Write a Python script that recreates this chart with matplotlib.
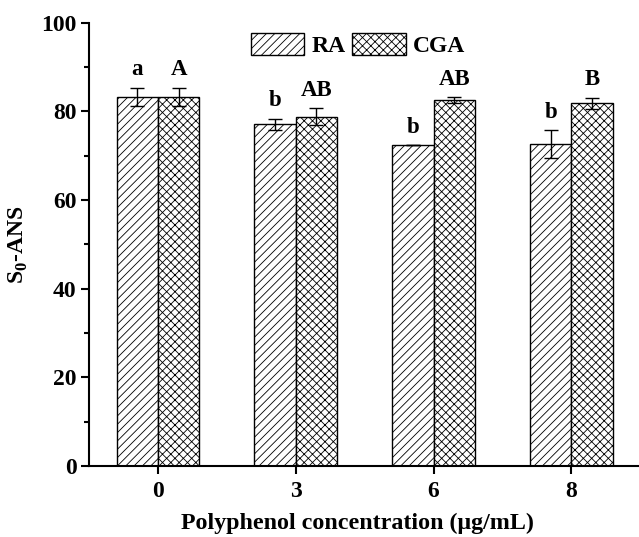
import matplotlib
matplotlib.use("Agg")
import matplotlib.pyplot as plt
import numpy as np

categories = ["0", "3", "6", "8"]
ra_values = [83.3, 77.1, 72.4, 72.6]
ra_errors = [2.0, 1.25, 0.0, 3.1]
cga_values = [83.3, 78.8, 82.5, 81.8]
cga_errors = [2.0, 1.9, 0.7, 1.25]
ra_letters = ["a", "b", "b", "b"]
cga_letters = ["A", "AB", "AB", "B"]
series_names = ["RA", "CGA"]

plt.rcParams['font.family'] = ['Liberation Serif', 'DejaVu Serif']
plt.rcParams['font.weight'] = 'bold'
plt.rcParams['mathtext.fontset'] = 'custom'
plt.rcParams['mathtext.rm'] = 'Liberation Serif:bold'
plt.rcParams['mathtext.bf'] = 'Liberation Serif:bold'
plt.rcParams['hatch.linewidth'] = 0.6

fig = plt.figure(figsize=(6.39, 5.37), dpi=100)
ax = fig.add_axes([0.1393, 0.1322, 0.8607, 0.8255])

x = np.arange(len(categories))
w = 0.3
b1 = ax.bar(x - w/2, ra_values, w, yerr=ra_errors, color='white', edgecolor='black',
            linewidth=1.0, hatch='////', label=series_names[0],
            error_kw=dict(ecolor='black', elinewidth=1.0, capsize=5, capthick=1.0))
b2 = ax.bar(x + w/2, cga_values, w, yerr=cga_errors, color='white', edgecolor='black',
            linewidth=1.0, hatch='xxxx', label=series_names[1],
            error_kw=dict(ecolor='black', elinewidth=1.0, capsize=5, capthick=1.0))

for xi, v, e, t in zip(x - w/2, ra_values, ra_errors, ra_letters):
    ax.annotate(t, (xi, v + e), xytext=(0, 9), textcoords='offset points',
                ha='center', va='baseline', fontsize=16.5, fontweight='bold')
for xi, v, e, t in zip(x + w/2, cga_values, cga_errors, cga_letters):
    ax.annotate(t, (xi, v + e), xytext=(0, 9), textcoords='offset points',
                ha='center', va='baseline', fontsize=16.5, fontweight='bold')

ax.set_xlim(-0.5, 3.49)
ax.set_ylim(0, 100)
ax.set_xticks(x)
ax.set_xticklabels(categories)
ax.set_yticks(np.arange(0, 101, 20))
ax.set_yticks(np.arange(10, 100, 20), minor=True)
ax.tick_params(axis='both', which='major', direction='out', length=6, width=1.5,
               labelsize=17, pad=3)
ax.tick_params(axis='x', which='major', pad=5)
ax.tick_params(axis='y', which='minor', direction='out', length=3.5, width=1.5)
for lab in ax.get_xticklabels() + ax.get_yticklabels():
    lab.set_fontweight('bold')

for s in ['top', 'right']:
    ax.spines[s].set_visible(False)
for s in ['left', 'bottom']:
    ax.spines[s].set_linewidth(1.5)

ax.set_xlabel('Polyphenol concentration (μg/mL)', fontsize=17.3, fontweight='bold', labelpad=8)
ax.xaxis.set_label_coords((357 - 89) / (639 - 89), -0.105)
ax.set_ylabel(r'S$_{0}$-ANS', fontsize=17, fontweight='bold', labelpad=8)

fig.legend(handles=[b1, b2], labels=series_names, loc='center', bbox_to_anchor=(358/639, 1 - 45/537),
           ncol=2, frameon=False, handlelength=2.25, handleheight=1.1,
           handletextpad=0.3, columnspacing=0.3, prop={'weight': 'bold', 'size': 17})

fig.savefig('out.png', dpi=100)
